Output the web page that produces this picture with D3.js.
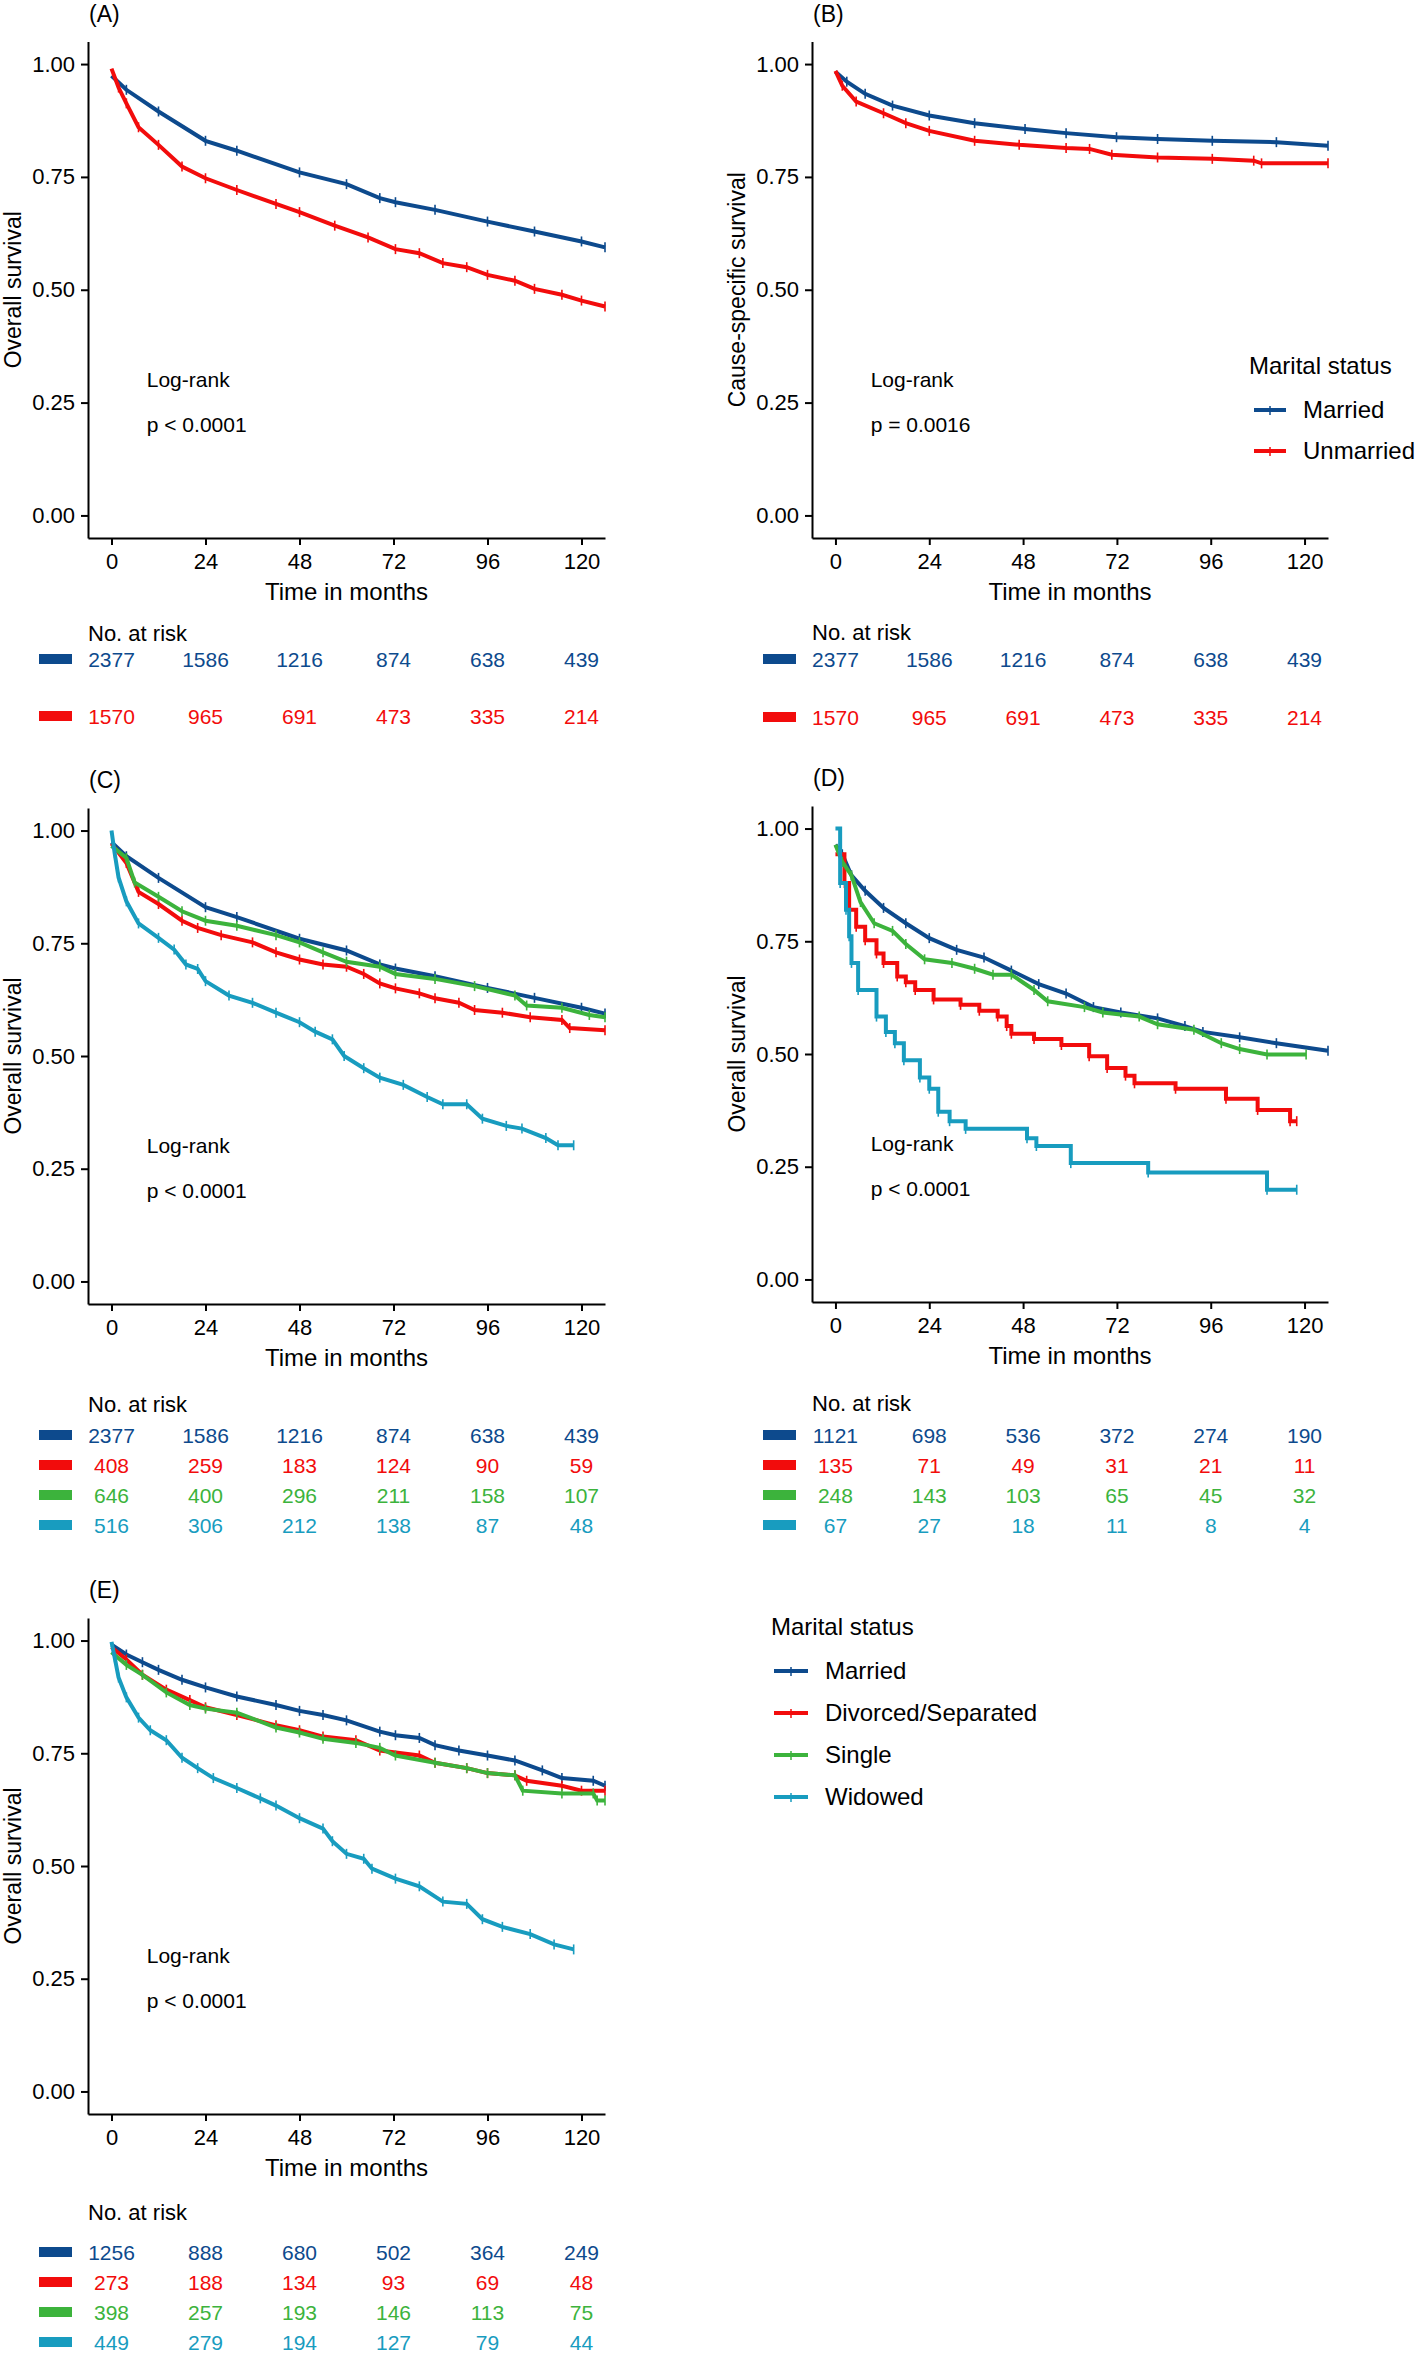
<!DOCTYPE html>
<html>
<head>
<meta charset="utf-8">
<script src="https://cdn.jsdelivr.net/npm/d3@7"></script>
<style>
  body { margin: 0; background: #fff; }
  text { font-family: "Liberation Sans", Arial, sans-serif; fill: #000; }
</style>
</head>
<body>
<svg id="fig" width="1418" height="2353"></svg>
<script>
// ---- data ----
var riskTimes = [0, 24, 48, 72, 96, 120];
var xTicks = [0, 24, 48, 72, 96, 120];
var yTicks = [0, 0.25, 0.5, 0.75, 1];

var groups2 = ["Married", "Unmarried"];
var groups4 = ["Married", "Divorced/Separated", "Single", "Widowed"];
var groupColors = ["#0d4a8d", "#f20c0c", "#3cb33c", "#189cbf"];

// survival curves, [month, probability]
var osMarried = [[0,0.974],[3.8,0.943],[12,0.895],[24,0.830],[32,0.808],[48,0.760],[60,0.734],[68.5,0.703],[72.5,0.694],[82.6,0.677],[96,0.651],[108,0.629],[120,0.607],[126,0.594]];
var osUnmarried = [[0,0.99],[1.8,0.948],[3.8,0.913],[6.9,0.860],[12,0.821],[18,0.773],[24,0.747],[32,0.721],[42,0.690],[48,0.672],[57,0.642],[65.5,0.616],[72.5,0.590],[78.6,0.581],[84.6,0.559],[90.7,0.550],[96,0.533],[103,0.520],[108,0.502],[115,0.489],[120,0.476],[126,0.463]];
var cssMarried = [[0,0.983],[2.9,0.961],[7.6,0.934],[14.6,0.908],[24,0.886],[35.6,0.869],[48.5,0.856],[59,0.847],[71.9,0.838],[82.4,0.834],[96.4,0.830],[112.8,0.827],[126,0.819]];
var cssUnmarried = [[0,0.985],[1.75,0.952],[5.3,0.917],[12.3,0.891],[18,0.869],[24,0.852],[35.6,0.830],[47,0.821],[59,0.814],[65,0.812],[70.7,0.799],[82.4,0.793],[96.4,0.790],[107,0.786],[109,0.780],[126,0.780]];
var osDivorced = [[0,0.971],[3.8,0.928],[6.9,0.864],[12,0.837],[18,0.800],[22,0.784],[28,0.768],[36,0.752],[42,0.730],[48,0.714],[54,0.703],[60,0.698],[64.4,0.682],[68.5,0.661],[72.5,0.650],[78.6,0.639],[82.6,0.628],[88.7,0.618],[92.7,0.602],[99.8,0.596],[106.9,0.586],[115,0.580],[117,0.562],[126,0.557]];
var osSingle = [[0,0.966],[3.8,0.939],[5.9,0.885],[12,0.853],[18,0.821],[24,0.800],[32,0.789],[42,0.768],[48,0.752],[54,0.730],[60,0.709],[68.5,0.698],[72.5,0.682],[82.6,0.671],[92.7,0.655],[103,0.634],[106,0.612],[115,0.607],[122,0.591],[126,0.586]];
var osWidowed = [[0,1.0],[0.8,0.950],[1.8,0.896],[3.8,0.843],[6.9,0.794],[12,0.762],[16,0.736],[19,0.703],[22,0.693],[24,0.666],[30,0.634],[36,0.618],[42,0.596],[48,0.575],[52,0.554],[56.4,0.537],[59.4,0.500],[64.4,0.473],[68.5,0.452],[74.5,0.436],[80.6,0.409],[84.6,0.393],[90.7,0.393],[94.7,0.361],[100.8,0.345],[104.8,0.339],[110.9,0.318],[114,0.302],[118,0.302]];
var dMarried = [[0,0.964],[1.75,0.943],[4.1,0.896],[7.6,0.862],[12.3,0.824],[18,0.790],[24,0.757],[31,0.731],[38,0.714],[45,0.685],[52,0.655],[59,0.634],[66,0.604],[73,0.592],[82.4,0.579],[89.4,0.562],[94,0.549],[103.4,0.537],[112.8,0.524],[126,0.507]];
var dDivorced = [[0,0.943],[2.3,0.879],[3.5,0.820],[5.3,0.782],[7.6,0.752],[10.5,0.723],[12.3,0.702],[15.8,0.672],[18,0.659],[20.4,0.642],[25.1,0.621],[32,0.609],[36.8,0.596],[41.5,0.583],[43.8,0.562],[45,0.545],[50.8,0.533],[57.8,0.520],[64.9,0.495],[69.5,0.469],[74.2,0.452],[76.5,0.435],[87,0.423],[99.9,0.401],[108,0.376],[116.3,0.351],[118,0.351]];
var dSingle = [[0,0.964],[1.75,0.926],[4.1,0.896],[6.4,0.837],[9.9,0.790],[14.6,0.773],[18,0.744],[22.8,0.710],[29.8,0.702],[35.6,0.689],[40.3,0.676],[45,0.676],[50.8,0.642],[54.3,0.617],[63.7,0.604],[68.4,0.592],[77.7,0.583],[82.4,0.566],[91.7,0.554],[98.7,0.524],[103.4,0.511],[110.4,0.499],[120.4,0.499]];
var dWidowed = [[0,1.0],[1.2,0.879],[2.7,0.820],[3.5,0.761],[4.1,0.702],[5.8,0.642],[10.5,0.583],[12.9,0.549],[15.2,0.524],[17.5,0.486],[21.6,0.448],[24,0.423],[26.3,0.372],[29.2,0.351],[33.3,0.334],[49,0.313],[51.4,0.296],[60.2,0.258],[80,0.237],[110.4,0.199],[118,0.199]];
var eMarried = [[0,0.991],[3.8,0.969],[7.9,0.952],[12,0.935],[18,0.913],[24,0.896],[32,0.876],[42,0.857],[48,0.844],[54,0.835],[60,0.823],[68.5,0.798],[72.5,0.790],[78.6,0.784],[82.6,0.768],[88.7,0.756],[96,0.745],[103,0.734],[110,0.712],[115,0.695],[123,0.689],[126,0.678]];
var eDivorced = [[0,0.985],[3.8,0.958],[7.9,0.924],[14,0.891],[20,0.868],[24,0.852],[32,0.835],[42,0.812],[48,0.801],[54,0.787],[62.4,0.779],[68.5,0.756],[78.6,0.745],[82.6,0.729],[90.7,0.717],[96,0.706],[103,0.701],[106,0.689],[115,0.678],[120,0.667],[126,0.667]];
var eSingle = [[0,0.974],[3.8,0.946],[7.9,0.924],[14,0.885],[20,0.857],[24,0.849],[32,0.840],[42,0.807],[48,0.796],[54,0.782],[62.4,0.773],[68.5,0.762],[72.5,0.745],[82.6,0.729],[90.7,0.717],[96,0.706],[103,0.701],[105,0.667],[115,0.661],[123,0.661],[124,0.645],[126,0.645]];
var eWidowed = [[0,0.997],[0.8,0.963],[1.8,0.918],[3.8,0.874],[6.9,0.829],[9.9,0.801],[14,0.779],[18,0.740],[22,0.717],[26,0.695],[32,0.673],[38,0.650],[42,0.634],[48,0.606],[54,0.583],[56.4,0.555],[60,0.527],[64.4,0.516],[66.5,0.494],[72.5,0.472],[78.6,0.455],[84.6,0.421],[90.7,0.416],[94.7,0.382],[99.8,0.365],[106.9,0.349],[113,0.326],[118,0.315]];

// numbers at risk
var riskMarried = [2377, 1586, 1216, 874, 638, 439];
var riskUnmarried = [1570, 965, 691, 473, 335, 214];
var riskDivorced = [408, 259, 183, 124, 90, 59];
var riskSingle = [646, 400, 296, 211, 158, 107];
var riskWidowed = [516, 306, 212, 138, 87, 48];
var riskDMarried = [1121, 698, 536, 372, 274, 190];
var riskDDivorced = [135, 71, 49, 31, 21, 11];
var riskDSingle = [248, 143, 103, 65, 45, 32];
var riskDWidowed = [67, 27, 18, 11, 8, 4];
var riskEMarried = [1256, 888, 680, 502, 364, 249];
var riskEDivorced = [273, 188, 134, 93, 69, 48];
var riskESingle = [398, 257, 193, 146, 113, 75];
var riskEWidowed = [449, 279, 194, 127, 79, 44];

// ---- panels ----
var panels = [
  {tag: "(A)", left: 88, right: 605, top: 41.5, bottom: 538, ylab: "Overall survival", p: "p < 0.0001",
   curves: [osMarried, osUnmarried], steps: [false, false],
   risk: [riskMarried, riskUnmarried], riskTitleY: 633, riskRows: [659, 716]},
  {tag: "(B)", left: 812, right: 1328, top: 41.5, bottom: 538, ylab: "Cause-specific survival", p: "p = 0.0016",
   curves: [cssMarried, cssUnmarried], steps: [false, false],
   risk: [riskMarried, riskUnmarried], riskTitleY: 632, riskRows: [659, 717]},
  {tag: "(C)", left: 88, right: 605, top: 808, bottom: 1304, ylab: "Overall survival", p: "p < 0.0001",
   curves: [osMarried, osDivorced, osSingle, osWidowed], steps: [false, false, false, false],
   risk: [riskMarried, riskDivorced, riskSingle, riskWidowed], riskTitleY: 1404, riskRows: [1435, 1465, 1495, 1525]},
  {tag: "(D)", left: 812, right: 1328, top: 806, bottom: 1302, ylab: "Overall survival", p: "p < 0.0001",
   curves: [dMarried, dDivorced, dSingle, dWidowed], steps: [false, true, false, true],
   risk: [riskDMarried, riskDDivorced, riskDSingle, riskDWidowed], riskTitleY: 1403, riskRows: [1435, 1465, 1495, 1525]},
  {tag: "(E)", left: 88, right: 605, top: 1618, bottom: 2114, ylab: "Overall survival", p: "p < 0.0001",
   curves: [eMarried, eDivorced, eSingle, eWidowed], steps: [false, false, false, false],
   risk: [riskEMarried, riskEDivorced, riskESingle, riskEWidowed], riskTitleY: 2212, riskRows: [2252, 2282, 2312, 2342]}
];

var svg = d3.select("#fig");

panels.forEach(function(pn) {
  var x = d3.scaleLinear().domain([-6, 126]).range([pn.left, pn.right]);
  var y = d3.scaleLinear().domain([-0.05, 1.05]).range([pn.bottom, pn.top]);
  var g = svg.append("g");

  // tag
  g.append("text").attr("x", pn.left + 1).attr("y", pn.top - 20)
    .style("font-size", "23px").text(pn.tag);

  // axes
  var ax = g.append("g").attr("transform", "translate(0," + pn.bottom + ")")
    .call(d3.axisBottom(x).tickValues(xTicks).tickSize(7).tickSizeOuter(0).tickPadding(8));
  var ay = g.append("g").attr("transform", "translate(" + pn.left + ",0)")
    .call(d3.axisLeft(y).tickValues(yTicks).tickFormat(d3.format(".2f")).tickSize(7).tickSizeOuter(0).tickPadding(6));
  [ax, ay].forEach(function(a) {
    a.selectAll("path, line").attr("stroke", "#000").attr("stroke-width", 2);
    a.selectAll("text").style("font-size", "22px").style("font-family", "Liberation Sans, Arial, sans-serif").attr("fill", "#000");
  });

  g.append("text").attr("x", (pn.left + pn.right) / 2).attr("y", pn.bottom + 62)
    .attr("text-anchor", "middle").style("font-size", "24px").text("Time in months");
  g.append("text").attr("transform", "translate(" + (pn.left - 67) + "," + ((pn.top + pn.bottom) / 2) + ") rotate(-90)")
    .attr("text-anchor", "middle").style("font-size", "23px").text(pn.ylab);

  // curves
  pn.curves.forEach(function(c, i) {
    var line = d3.line().x(function(d) { return x(d[0]); }).y(function(d) { return y(d[1]); })
      .curve(pn.steps[i] ? d3.curveStepAfter : d3.curveLinear);
    g.append("path").datum(c).attr("d", line).attr("fill", "none")
      .attr("stroke", groupColors[i]).attr("stroke-width", 4).attr("stroke-linejoin", "miter");
    g.selectAll(null).data(c.slice(1)).enter().append("line")
      .attr("x1", function(d) { return x(d[0]); }).attr("x2", function(d) { return x(d[0]); })
      .attr("y1", function(d) { return y(d[1]) - 5; }).attr("y2", function(d) { return y(d[1]) + 5; })
      .attr("stroke", groupColors[i]).attr("stroke-width", 1.6);
  });

  // log-rank text
  g.append("text").attr("x", x(9)).attr("y", y(0.3) + 7).style("font-size", "21px").text("Log-rank");
  g.append("text").attr("x", x(9)).attr("y", y(0.2) + 7).style("font-size", "21px").text(pn.p);

  // risk table
  g.append("text").attr("x", pn.left).attr("y", pn.riskTitleY + 8).style("font-size", "22px").text("No. at risk");
  pn.risk.forEach(function(r, i) {
    var ry = pn.riskRows[i];
    g.append("rect").attr("x", pn.left - 49).attr("y", ry - 5).attr("width", 33).attr("height", 10)
      .attr("fill", groupColors[i]);
    g.selectAll(null).data(r).enter().append("text")
      .attr("x", function(d, j) { return x(riskTimes[j]); }).attr("y", ry + 7.5)
      .attr("text-anchor", "middle").style("font-size", "21px").style("fill", groupColors[i])
      .text(function(d) { return d; });
  });
});

// legends
function legend(x0, titleY, rowYs, labels, lineX0, lineX1, textX) {
  var g = svg.append("g");
  g.append("text").attr("x", x0).attr("y", titleY + 8).style("font-size", "24px").text("Marital status");
  labels.forEach(function(l, i) {
    var ry = rowYs[i];
    g.append("line").attr("x1", lineX0).attr("x2", lineX1).attr("y1", ry).attr("y2", ry)
      .attr("stroke", groupColors[i]).attr("stroke-width", 4);
    g.append("line").attr("x1", (lineX0 + lineX1) / 2).attr("x2", (lineX0 + lineX1) / 2)
      .attr("y1", ry - 4).attr("y2", ry + 5).attr("stroke", groupColors[i]).attr("stroke-width", 1.5);
    g.append("text").attr("x", textX).attr("y", ry + 8).style("font-size", "24px").text(l);
  });
}
legend(1249, 366, [410, 451], groups2, 1254, 1286, 1303);
legend(771, 1627, [1671, 1713, 1755, 1797], groups4, 774, 808, 825);
</script>
</body>
</html>
